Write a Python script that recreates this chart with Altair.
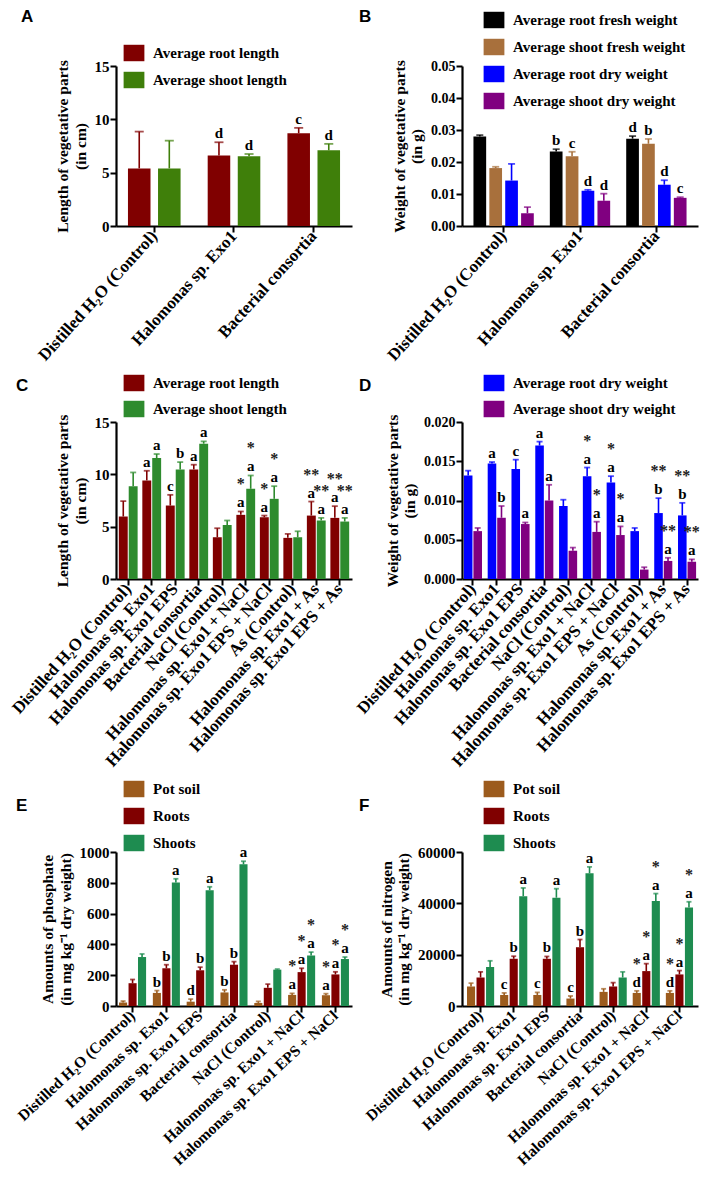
import altair as alt
import pandas as pd

SERIF = "Liberation Serif"
SANS = "Liberation Sans"

# ---------------- Panel A ----------------
groups_ab = ["Distilled H₂O (Control)", "Halomonas sp. Exo1", "Bacterial consortia"]
a_series = ["Average root length", "Average shoot length"]
a_root = [5.4, 6.6, 8.7]
a_root_err = [8.85, 7.85, 9.2]
a_shoot = [5.4, 6.55, 7.1]
a_shoot_err = [8.0, 6.75, 7.7]
a_root_lab = ["", "d", "c"]
a_shoot_lab = ["", "d", "d"]

# ---------------- Panel B ----------------
b_series = ["Average root fresh weight", "Average shoot fresh weight",
            "Average root dry weight", "Average shoot dry weight"]
b_root_fresh = [0.0280, 0.0233, 0.0273]
b_root_fresh_err = [0.0284, 0.0240, 0.0281]
b_shoot_fresh = [0.0181, 0.0218, 0.0257]
b_shoot_fresh_err = [0.0185, 0.0232, 0.0272]
b_root_dry = [0.0142, 0.0110, 0.0129]
b_root_dry_err = [0.0194, 0.0113, 0.0143]
b_shoot_dry = [0.0040, 0.0079, 0.0088]
b_shoot_dry_err = [0.0059, 0.0101, 0.0090]
b_lab_rf = ["", "b", "d"]
b_lab_sf = ["", "c", "b"]
b_lab_rd = ["", "d", "d"]
b_lab_sd = ["", "d", "c"]

# ---------------- Panels C & D ----------------
groups_cd = ["Distilled H₂O (Control)", "Halomonas sp. Exo1", "Halomonas sp. Exo1 EPS",
             "Bacterial consortia", "NaCl (Control)", "Halomonas sp. Exo1 + NaCl",
             "Halomonas sp. Exo1 EPS + NaCl", "As (Control)", "Halomonas sp. Exo1 + As",
             "Halomonas sp. Exo1 EPS + As"]
c_root = [5.97, 9.42, 7.02, 10.47, 3.99, 6.13, 5.90, 3.93, 6.06, 5.84]
c_root_err = [7.44, 10.34, 8.04, 10.92, 4.85, 6.45, 6.06, 4.31, 7.40, 6.96]
c_shoot = [8.87, 11.55, 10.47, 12.93, 5.17, 8.62, 7.66, 3.99, 5.59, 5.49]
c_shoot_err = [10.18, 11.94, 11.17, 13.15, 5.59, 9.89, 8.87, 4.56, 5.84, 5.84]
c_root_lab = ["", "a", "c", "a", "", "a", "a", "", "a", "a"]
c_shoot_lab = ["", "a", "b", "a", "", "a", "a", "", "a", "a"]
cd_stars = ["", "", "", "", "", "*", "*", "", "**", "**"]

d_series = ["Average root dry weight", "Average shoot dry weight"]
d_root = [0.0132, 0.0147, 0.0140, 0.0170, 0.0093, 0.0131, 0.0123, 0.0061, 0.0084, 0.0081]
d_root_err = [0.0138, 0.0149, 0.0152, 0.0175, 0.0101, 0.0142, 0.0131, 0.0065, 0.0103, 0.0097]
d_shoot = [0.0061, 0.0078, 0.0070, 0.0100, 0.0036, 0.0060, 0.0056, 0.0012, 0.0023, 0.0022]
d_shoot_err = [0.0065, 0.0093, 0.0072, 0.0120, 0.0040, 0.0073, 0.0067, 0.0015, 0.0027, 0.0025]
d_root_lab = ["", "a", "c", "a", "", "a", "a", "", "b", "b"]
d_shoot_lab = ["", "b", "a", "a", "", "a", "a", "", "a", "a"]

# ---------------- Panels E & F ----------------
groups_ef = ["Distilled H₂O (Control)", "Halomonas sp. Exo1", "Halomonas sp. Exo1 EPS",
             "Bacterial consortia", "NaCl (Control)", "Halomonas sp. Exo1 + NaCl",
             "Halomonas sp. Exo1 EPS + NaCl"]
ef_series = ["Pot soil", "Roots", "Shoots"]
e_soil = [22, 85, 28, 88, 20, 72, 70]
e_soil_err = [32, 100, 45, 105, 30, 82, 80]
e_roots = [148, 245, 232, 268, 118, 220, 205]
e_roots_err = [172, 268, 252, 288, 142, 245, 222]
e_shoots = [318, 802, 752, 920, 236, 328, 305]
e_shoots_err = [338, 826, 774, 940, 240, 350, 318]
e_soil_lab = ["", "b", "d", "b", "", "a", "a"]
e_roots_lab = ["", "b", "b", "b", "", "a", "a"]
e_shoots_lab = ["", "a", "a", "a", "", "a", "a"]
ef_stars = ["", "", "", "", "", "*", "*"]

f_soil = [7600, 4300, 4300, 2900, 5500, 5100, 5100]
f_soil_err = [8900, 5100, 5300, 3900, 6700, 5900, 5900]
f_roots = [11100, 18400, 18400, 22900, 7600, 13600, 12300]
f_roots_err = [13300, 19400, 19300, 25900, 9100, 16500, 13800]
f_shoots = [15200, 42800, 42200, 51700, 11100, 40900, 38400]
f_shoots_err = [17600, 46000, 45700, 54200, 13300, 43800, 40600]
f_soil_lab = ["", "c", "c", "c", "", "d", "d"]
f_roots_lab = ["", "b", "b", "b", "", "a", "a"]
f_shoots_lab = ["", "a", "a", "a", "", "a", "a"]


def build(groups, series, values, errs, labels, stars):
    rows = []
    for si, s in enumerate(series):
        for gi, g in enumerate(groups):
            rows.append(dict(group=g, series=s, value=values[si][gi], err=errs[si][gi],
                             letter=labels[si][gi], star=stars[si][gi] if stars else ""))
    return pd.DataFrame(rows)


def panel(df, groups, series, colors, ymax, yticks, yfmt, ytitle, letter, w, h,
          lx, ly, pin, pout, opad, cap, tx, ty, ylab=15, rowpad=9, xlab=17, xang=-48):
    xscale = alt.Scale(paddingInner=pin, paddingOuter=pout)
    xaxis = alt.Axis(labelAngle=xang, labelFont=SERIF, labelFontWeight="bold", labelFontSize=xlab,
                     labelColor="black", domainColor="black", domainWidth=2.2, tickColor="black",
                     tickWidth=2, tickSize=6, labelPadding=1, labelLimit=400, labelAlign="right",
                     labelBaseline="middle")
    x = alt.X("group:N", sort=groups, title=None, scale=xscale, axis=xaxis)
    xo = alt.XOffset("series:N", sort=series, scale=alt.Scale(paddingInner=opad, paddingOuter=0))
    yaxis = alt.Axis(values=yticks, format=yfmt, grid=False, labelFont=SERIF, labelFontWeight="bold",
                     labelFontSize=ylab, labelColor="black", domainColor="black", domainWidth=2.2,
                     tickColor="black", tickWidth=2, tickSize=6, titleFont=SERIF, titleFontWeight="bold",
                     titleFontSize=15.5, titleColor="black", titlePadding=6, labelPadding=1)
    yscale = alt.Scale(domain=[0, ymax], nice=False, zero=True)
    col_scale = alt.Scale(domain=series, range=colors)
    legend = alt.Legend(orient="none", legendX=lx, legendY=ly, title=None,
                        symbolType="M-1.2,-0.95H1.2V0.95H-1.2Z", symbolSize=300,
                        symbolStrokeWidth=0, symbolOpacity=1, labelFont=SERIF,
                        labelFontWeight="bold", labelFontSize=15, labelColor="black",
                        labelOffset=10, rowPadding=rowpad, labelLimit=400)

    def Y(field):
        return alt.Y(field, scale=yscale, axis=yaxis, title=ytitle)

    bars = alt.Chart(df).mark_bar().encode(
        x=x, xOffset=xo, y=Y("value:Q"),
        color=alt.Color("series:N", sort=series, scale=col_scale, legend=legend))
    rule = alt.Chart(df).mark_rule(strokeWidth=1.6).encode(
        x=x, xOffset=xo, y=Y("value:Q"), y2="err:Q",
        color=alt.Color("series:N", sort=series, scale=col_scale, legend=None))
    tick = alt.Chart(df).mark_tick(thickness=1.8, size=cap).encode(
        x=x, xOffset=xo, y=Y("err:Q"),
        color=alt.Color("series:N", sort=series, scale=col_scale, legend=None))
    txt = alt.Chart(df).mark_text(font=SERIF, fontWeight="bold", fontSize=15, baseline="alphabetic",
                                  dy=-4, color="black").encode(
        x=x, xOffset=xo, y=Y("err:Q"), text="letter:N")
    star = alt.Chart(df).mark_text(font=SERIF, fontWeight="bold", fontSize=16, baseline="alphabetic",
                                   dy=-22, color="#222222").encode(
        x=x, xOffset=xo, y=Y("err:Q"), text="star:N")
    tag = alt.Chart(pd.DataFrame({"t": [letter]})).mark_text(
        font=SANS, fontSize=17, fontWeight="bold", align="left", baseline="middle",
        color="black").encode(x=alt.value(tx), y=alt.value(ty), text="t:N")
    return alt.layer(bars, rule, tick, txt, star, tag).properties(width=w, height=h)


dfA = build(groups_ab, a_series, [a_root, a_shoot], [a_root_err, a_shoot_err],
            [a_root_lab, a_shoot_lab], None)
dfB = build(groups_ab, b_series, [b_root_fresh, b_shoot_fresh, b_root_dry, b_shoot_dry],
            [b_root_fresh_err, b_shoot_fresh_err, b_root_dry_err, b_shoot_dry_err],
            [b_lab_rf, b_lab_sf, b_lab_rd, b_lab_sd], None)
dfC = build(groups_cd, a_series, [c_root, c_shoot], [c_root_err, c_shoot_err],
            [c_root_lab, c_shoot_lab], [cd_stars, cd_stars])
dfD = build(groups_cd, d_series, [d_root, d_shoot], [d_root_err, d_shoot_err],
            [d_root_lab, d_shoot_lab], [cd_stars, cd_stars])
dfE = build(groups_ef, ef_series, [e_soil, e_roots, e_shoots],
            [e_soil_err, e_roots_err, e_shoots_err],
            [e_soil_lab, e_roots_lab, e_shoots_lab], [ef_stars, ef_stars, ef_stars])
dfF = build(groups_ef, ef_series, [f_soil, f_roots, f_shoots],
            [f_soil_err, f_roots_err, f_shoots_err],
            [f_soil_lab, f_roots_lab, f_shoots_lab], [ef_stars, ef_stars, ef_stars])

W = 236
pA = panel(dfA, groups_ab, a_series, ["#800000", "#3f7f0a"], 15, [0, 5, 10, 15], "d",
           ["Length of vegetative parts", "(in cm)"], "A", W, 160, 9, -22,
           0.34, 0.15, 0.25, 9, -95, -49)
pB = panel(dfB, groups_ab, b_series, ["#000000", "#a8703c", "#0000ff", "#800080"], 0.05,
           [0, 0.01, 0.02, 0.03, 0.04, 0.05], ".2f",
           ["Weight of vegetative parts", "(in g)"], "B", W, 160, 23, -55,
           0.21, 0.15, 0.2, 7, -103, -49, ylab=14)
pC = panel(dfC, groups_cd, a_series, ["#800000", "#2e8b2e"], 15, [0, 5, 10, 15], "d",
           ["Length of vegetative parts", "(in cm)"], "C", W, 157, 9, -48,
           0.2, 0.12, 0.1, 6, -100, -36, rowpad=8)
pD = panel(dfD, groups_cd, d_series, ["#0000ff", "#800080"], 0.02,
           [0, 0.005, 0.01, 0.015, 0.02], ".3f",
           ["Weight of vegetative parts", "(in g)"], "D", W, 157, 23, -48,
           0.24, 0.08, 0.1, 6, -103, -36, ylab=14, rowpad=8)
pE = panel(dfE, groups_ef, ef_series, ["#9c5b1d", "#800000", "#1e8c50"], 1000,
           [0, 200, 400, 600, 800, 1000], "d",
           ["Amounts of phosphate", "(in mg kg⁻¹ dry weight)"], "E", W, 154, 9, -72,
           0.2, 0.09, 0.15, 5, -100, -46, xlab=15.5, xang=-43)
pF = panel(dfF, groups_ef, ef_series, ["#9c5b1d", "#800000", "#1e8c50"], 60000,
           [0, 20000, 40000, 60000], "d",
           ["Amounts of nitrogen", "(in mg kg⁻¹ dry weight)"], "F", W, 154, 23, -72,
           0.18, 0.15, 0.15, 5, -103, -46, xlab=15.5, xang=-43)

chart = alt.concat(pA, pB, pC, pD, pE, pF, columns=2, align="each",
                   spacing={"row": 10, "column": 0}).resolve_scale(
    color="independent", x="independent", y="independent", xOffset="independent"
).resolve_legend(color="independent").properties(padding=0).configure_view(stroke=None)

chart.save("out.html", embed_options={"renderer": "svg", "actions": False})
